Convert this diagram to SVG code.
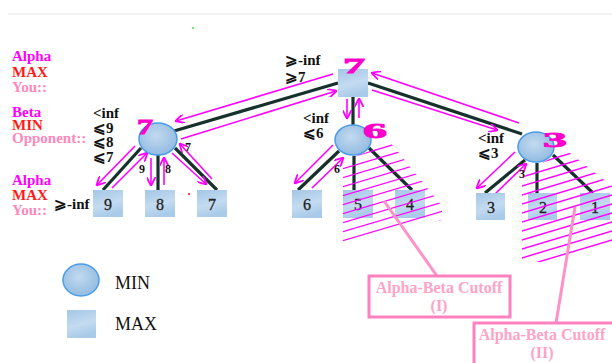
<svg xmlns="http://www.w3.org/2000/svg" width="612" height="363" viewBox="0 0 612 363">
<defs>
<radialGradient id="gc" cx="0.45" cy="0.4" r="0.65">
<stop offset="0" stop-color="#c2daf0"/><stop offset="1" stop-color="#8fb9e0"/>
</radialGradient>
<linearGradient id="gb" x1="0" y1="0" x2="0.3" y2="1">
<stop offset="0" stop-color="#a3c6e6"/><stop offset="0.6" stop-color="#c4dbf0"/><stop offset="1" stop-color="#a9cbe9"/>
</linearGradient>
<marker id="ah" viewBox="0 0 10 10" refX="9" refY="5" markerWidth="9" markerHeight="9" markerUnits="userSpaceOnUse" orient="auto">
<path d="M0,0 L10,5 L0,10" fill="none" stroke="#ff00ff" stroke-width="2"/>
</marker>
<clipPath id="cm"><polygon points="343,166 352,158 372,150 390,142 442,206 442,220 343,242"/></clipPath>
<clipPath id="cr"><polygon points="522,178 540,164 566,150 612,186 612,262 522,262"/></clipPath>
</defs>
<style>
.t{font-family:"Liberation Serif","Times New Roman",serif;font-weight:bold;font-size:15px}
.al{fill:#ff00ff}.mx{fill:#ff1a1a}.yo{fill:#ff88bb}
.lb{font-family:"Liberation Serif","DejaVu Serif",serif;font-weight:bold;font-size:15px;fill:#111}
.lf{font-family:"Liberation Serif",serif;font-size:16px;fill:#222;stroke:#222;stroke-width:0.3;text-anchor:middle}
.el{font-family:"Liberation Serif",serif;font-weight:bold;font-size:12px;fill:#111}
.big{font-family:"Liberation Serif",serif;font-weight:bold;font-size:20px;fill:#ff00cc;stroke:#ff00cc;stroke-width:0.8}
.edge{stroke:#16302c;stroke-width:3.2;fill:none}
.arr{stroke:#ff00ff;stroke-width:1.6;fill:none;marker-end:url(#ah)}
.hat{stroke:#ff00ff;stroke-width:1.4}
.min{fill:url(#gc);stroke:#4b9ce8;stroke-width:1.5}
.max{fill:url(#gb)}
.cb{fill:#fff;stroke:#ff80c0;stroke-width:3}
.ct{font-family:"Liberation Serif",serif;font-weight:bold;font-size:16px;fill:#ffa3c6;text-anchor:middle}
.lg{font-family:"Liberation Serif",serif;font-size:18px;fill:#111}
</style>
<rect width="612" height="363" fill="#fff"/>
<line x1="8" y1="14" x2="612" y2="14" stroke="#efefef" stroke-width="1.5"/>
<rect x="192" y="27" width="2" height="2" fill="#66ee66"/>
<rect x="188" y="193" width="2" height="2" fill="#ff4444"/>

<g id="side-labels">
<text class="t al" x="12" y="61">Alpha</text>
<text class="t mx" x="12" y="77">MAX</text>
<text class="t yo" x="12" y="92">You::</text>
<text class="t al" x="12" y="117">Beta</text>
<text class="t mx" x="12" y="130">MIN</text>
<text class="t yo" x="12" y="143">Opponent::</text>
<text class="t al" x="12" y="185">Alpha</text>
<text class="t mx" x="12" y="200">MAX</text>
<text class="t yo" x="12" y="215">You::</text>
</g>

<g id="connectors">
<line class="edge" x1="338" y1="83" x2="174" y2="131"/>
<line class="edge" x1="368" y1="83" x2="522" y2="134"/>
<line class="edge" x1="353" y1="97" x2="353" y2="125"/>
<line class="edge" x1="141" y1="148" x2="103" y2="190"/>
<line class="edge" x1="158" y1="155" x2="158" y2="190"/>
<line class="edge" x1="175" y1="148" x2="217" y2="190"/>
<line class="edge" x1="339" y1="151" x2="298" y2="190"/>
<line class="edge" x1="354" y1="156" x2="354" y2="190"/>
<line class="edge" x1="369" y1="148" x2="412" y2="190"/>
<line class="edge" x1="525" y1="160" x2="485" y2="193"/>
<line class="edge" x1="537" y1="163" x2="537" y2="193"/>
<line class="edge" x1="553" y1="155" x2="593" y2="193"/>
<line class="arr" x1="333" y1="74" x2="176" y2="121"/>
<line class="arr" x1="181" y1="139" x2="336" y2="91"/>
<line class="arr" x1="519" y1="123" x2="372" y2="73"/>
<line class="arr" x1="372" y1="90" x2="497" y2="130"/>
<line class="arr" x1="347" y1="99" x2="347" y2="118"/>
<line class="arr" x1="359" y1="118" x2="359" y2="99"/>
<line class="arr" x1="135" y1="146" x2="97" y2="185"/>
<line class="arr" x1="112" y1="188" x2="147" y2="153"/>
<line class="arr" x1="151" y1="158" x2="151" y2="185"/>
<line class="arr" x1="164" y1="185" x2="164" y2="158"/>
<line class="arr" x1="212" y1="179" x2="180" y2="144"/>
<line class="arr" x1="172" y1="153" x2="206" y2="184"/>
<line class="arr" x1="333" y1="145" x2="295" y2="183"/>
<line class="arr" x1="312" y1="188" x2="343" y2="158"/>
<line class="arr" x1="515" y1="152" x2="477" y2="188"/>
<line class="arr" x1="495" y1="194" x2="526" y2="164"/>
</g>

<g id="root-max">
<rect class="max" x="338" y="69" width="30" height="28"/>
<text class="big" x="354" y="73" text-anchor="middle" textLength="22" lengthAdjust="spacingAndGlyphs">7</text>
<text class="lb" x="285" y="65">⩾-inf</text>
<text class="lb" x="285" y="82">⩾7</text>
</g>
<g id="min-left">
<ellipse class="min" cx="158" cy="139" rx="19" ry="16"/>
<text class="big" x="145" y="134" text-anchor="middle" textLength="16" lengthAdjust="spacingAndGlyphs">7</text>
<text class="lb" x="93" y="118">&lt;inf</text>
<text class="lb" x="93" y="133">⩽9</text>
<text class="lb" x="93" y="147">⩽8</text>
<text class="lb" x="93" y="162">⩽7</text>
</g>
<g id="min-mid">
<ellipse class="min" cx="353" cy="140" rx="18" ry="15"/>
<text class="big" x="375" y="138" text-anchor="middle" textLength="24" lengthAdjust="spacingAndGlyphs">6</text>
<text class="lb" x="303" y="123">&lt;inf</text>
<text class="lb" x="303" y="138">⩽6</text>
</g>
<g id="min-right">
<ellipse class="min" cx="536" cy="147" rx="18" ry="15"/>
<text class="big" x="555" y="147" text-anchor="middle" textLength="24" lengthAdjust="spacingAndGlyphs">3</text>
<text class="lb" x="478" y="143">&lt;inf</text>
<text class="lb" x="478" y="158">⩽3</text>
</g>
<g id="leaf-9"><rect class="max" x="93" y="190" width="30" height="27"/><text class="lf" x="108" y="210">9</text></g>
<g id="leaf-8"><rect class="max" x="145" y="190" width="30" height="27"/><text class="lf" x="160" y="210">8</text></g>
<g id="leaf-7"><rect class="max" x="197" y="190" width="30" height="27"/><text class="lf" x="212" y="210">7</text></g>
<g id="leaf-6"><rect class="max" x="292" y="190" width="30" height="28"/><text class="lf" x="307" y="210">6</text></g>
<g id="leaf-5"><rect class="max" x="343" y="190" width="30" height="28"/><text class="lf" x="358" y="210">5</text></g>
<g id="leaf-4"><rect class="max" x="395" y="190" width="30" height="28"/><text class="lf" x="410" y="210">4</text></g>
<g id="leaf-3"><rect class="max" x="476" y="193" width="29" height="27"/><text class="lf" x="491" y="213">3</text></g>
<g id="leaf-2"><rect class="max" x="528" y="193" width="29" height="27"/><text class="lf" x="543" y="213">2</text></g>
<g id="leaf-1"><rect class="max" x="580" y="193" width="30" height="27"/><text class="lf" x="595" y="213">1</text></g>
<text class="lb" x="54" y="209">⩾-inf</text>
<g id="edge-labels">
<text class="el" x="139" y="173">9</text>
<text class="el" x="165" y="173">8</text>
<text class="el" x="185" y="151">7</text>
<text class="el" x="334" y="173">6</text>
<text class="el" x="519" y="178">3</text>
</g>

<g id="hatch-mid" clip-path="url(#cm)">
<line class="hat" x1="335" y1="153" x2="450" y2="119"/>
<line class="hat" x1="335" y1="162" x2="450" y2="128"/>
<line class="hat" x1="335" y1="171" x2="450" y2="137"/>
<line class="hat" x1="335" y1="180" x2="450" y2="146"/>
<line class="hat" x1="335" y1="189" x2="450" y2="155"/>
<line class="hat" x1="335" y1="198" x2="450" y2="164"/>
<line class="hat" x1="335" y1="207" x2="450" y2="173"/>
<line class="hat" x1="335" y1="216" x2="450" y2="182"/>
<line class="hat" x1="335" y1="225" x2="450" y2="191"/>
<line class="hat" x1="335" y1="234" x2="450" y2="200"/>
<line class="hat" x1="335" y1="243" x2="450" y2="209"/>
<line class="hat" x1="335" y1="252" x2="450" y2="218"/>
</g>
<g id="hatch-right" clip-path="url(#cr)">
<line class="hat" x1="515" y1="170" x2="615" y2="140"/>
<line class="hat" x1="515" y1="179" x2="615" y2="149"/>
<line class="hat" x1="515" y1="188" x2="615" y2="158"/>
<line class="hat" x1="515" y1="197" x2="615" y2="167"/>
<line class="hat" x1="515" y1="206" x2="615" y2="176"/>
<line class="hat" x1="515" y1="215" x2="615" y2="185"/>
<line class="hat" x1="515" y1="224" x2="615" y2="194"/>
<line class="hat" x1="515" y1="233" x2="615" y2="203"/>
<line class="hat" x1="515" y1="242" x2="615" y2="212"/>
<line class="hat" x1="515" y1="251" x2="615" y2="221"/>
<line class="hat" x1="515" y1="260" x2="615" y2="230"/>
<line class="hat" x1="515" y1="269" x2="615" y2="239"/>
</g>

<g id="cutoff-1">
<line x1="384" y1="201" x2="437" y2="276" stroke="#ff90c8" stroke-width="3"/>
<rect class="cb" x="369" y="276" width="141" height="41"/>
<text class="ct" x="439" y="293">Alpha-Beta Cutoff</text>
<text class="ct" x="439" y="311">(I)</text>
</g>
<g id="cutoff-2">
<line x1="575" y1="207" x2="556" y2="323" stroke="#ff90c8" stroke-width="3"/>
<rect class="cb" x="474" y="323" width="140" height="42"/>
<text class="ct" x="542" y="340">Alpha-Beta Cutoff</text>
<text class="ct" x="542" y="358">(II)</text>
</g>

<g id="legend-min">
<ellipse class="min" cx="81" cy="280" rx="18" ry="16"/>
<text class="lg" x="115" y="289">MIN</text>
</g>
<g id="legend-max">
<rect class="max" x="67" y="310" width="29" height="28"/>
<text class="lg" x="115" y="330">MAX</text>
</g>
</svg>
